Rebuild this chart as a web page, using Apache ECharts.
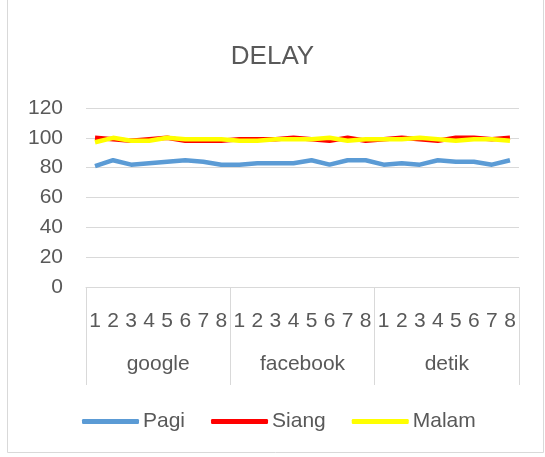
<!DOCTYPE html>
<html><head><meta charset="utf-8">
<script src="https://cdn.jsdelivr.net/npm/echarts@6/dist/echarts.min.js"></script>
<style>html,body{margin:0;padding:0;background:#fff}#c{width:545px;height:457px}</style>
</head><body><div id="c"></div>
<script>
var groups = ['google', 'facebook', 'detik'];
var subLabels = ['1','2','3','4','5','6','7','8'];
var pagi  = [81, 85, 82, 83, 84, 85, 84, 82,  82, 83, 83, 83, 85, 82, 85, 85,  82, 83, 82, 85, 84, 84, 82, 85];
var siang = [100, 99, 98, 99, 100, 98, 98, 98,  99, 99, 99, 100, 99, 98, 100, 98,  99, 100, 99, 98, 100, 100, 99, 100];
var malam = [97, 100, 98, 98, 100, 99, 99, 99,  98, 98, 99, 99, 99, 100, 98, 99,  99, 99, 100, 99, 98, 99, 99, 98];
var yTicks = {min: 0, max: 120, interval: 20};

var cats = [];
groups.forEach(function(g){ subLabels.forEach(function(s){ cats.push(s); }); });

var font = 'Liberation Sans, Arial, sans-serif';
var txt = '#595959';
var gridC = '#d9d9d9';
var fs = 21;
var chart = echarts.init(document.getElementById('c'));
chart.setOption({
  animation: false,
  title: {text: 'DELAY', left: 'center', top: 39, textStyle: {fontFamily: font, fontSize: 26, fontWeight: 'normal', color: txt}},
  graphic: [{type: 'rect', shape: {x: 7.5, y: -2, width: 536, height: 454.5}, style: {fill: 'none', stroke: gridC, lineWidth: 1}, silent: true}],
  legend: {
    top: 406, left: 77, itemWidth: 57, itemHeight: 5, itemGap: 26,
    icon: 'roundRect',
    textStyle: {fontFamily: font, fontSize: fs, color: txt, padding: [0,0,0,-1]},
    data: ['Pagi', 'Siang', 'Malam']
  },
  grid: {left: 86, right: 26, top: 108, bottom: 170},
  xAxis: [{
    type: 'category', data: cats, boundaryGap: true,
    axisLine: {lineStyle: {color: gridC}},
    axisTick: {show: false},
    axisLabel: {interval: 0, margin: 24, fontFamily: font, fontSize: fs, color: txt}
  }, {
    type: 'category', data: groups, boundaryGap: true, position: 'bottom',
    axisLine: {show: false},
    axisTick: {show: true, length: 98, interval: 0, lineStyle: {color: gridC}},
    axisLabel: {interval: 0, margin: 67, fontFamily: font, fontSize: fs, color: txt}
  }],
  yAxis: {
    type: 'value', min: yTicks.min, max: yTicks.max, interval: yTicks.interval,
    axisLine: {show: false}, axisTick: {show: false},
    splitLine: {lineStyle: {color: gridC}},
    axisLabel: {margin: 23, fontFamily: font, fontSize: fs, color: txt}
  },
  series: [
    {name: 'Pagi', type: 'line', data: pagi, showSymbol: false, symbol: 'none', lineStyle: {width: 4.5, color: '#5b9bd5'}, itemStyle: {color: '#5b9bd5'}},
    {name: 'Siang', type: 'line', data: siang, showSymbol: false, symbol: 'none', lineStyle: {width: 4.5, color: '#ff0000'}, itemStyle: {color: '#ff0000'}},
    {name: 'Malam', type: 'line', data: malam, showSymbol: false, symbol: 'none', lineStyle: {width: 4.5, color: '#ffff00'}, itemStyle: {color: '#ffff00'}}
  ]
});
</script></body></html>
